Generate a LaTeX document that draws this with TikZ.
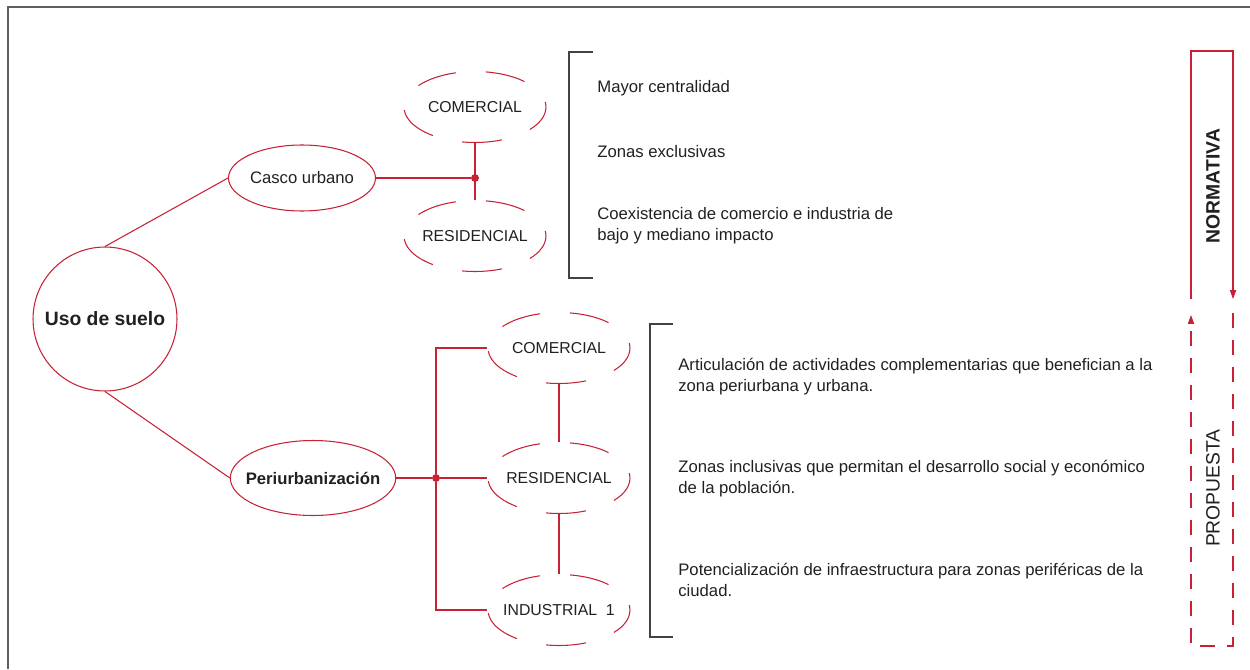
\documentclass[tikz,border=0pt]{standalone}
\usepackage{fontspec}
\setmainfont{Liberation Sans}
\usetikzlibrary{shapes.geometric,arrows.meta}
\definecolor{usored}{RGB}{200,32,52}
\definecolor{usotext}{RGB}{35,31,32}
\definecolor{usoframe}{RGB}{95,95,95}

\begin{document}
\begin{tikzpicture}[x=0.02cm, y=-0.02cm, >={Triangle[length=5pt,width=3.5pt]},
		font=\fontsize{9.5}{12}\selectfont, text=usotext,
		redline/.style={draw=usored, line width=0.6pt},
		zona/.style={ellipse, redline, inner sep=0pt},
		uso/.style={zona, inner xsep=-4pt, minimum width=2.84cm, minimum height=1.42cm, font=\fontsize{9}{11}\selectfont, dash pattern=on 0.8cm off 0.6cm, dash phase=0.7cm},
		nudo/.style={circle, fill=usored, inner sep=0pt, minimum size=4.5pt},
		corchete/.style={draw=usotext!85, line width=0.6pt},
		txt/.style={anchor=west, align=left, inner sep=0pt}]
		\useasboundingbox (0,0) rectangle (1250,669);
		\draw[usoframe, line width=0.6pt] (1250,7) -- (8,7) -- (8,669);
		% raiz y ramas
		\node[zona, circle, minimum size=2.88cm, font=\fontsize{11}{13}\selectfont\bfseries] (suelo) at (105,319) {Uso de suelo};
		\node[zona, minimum width=2.86cm, minimum height=1.32cm] (casco) at (302,178) {Casco urbano};
		\node[zona, inner xsep=-5pt, minimum width=3.28cm, minimum height=1.5cm, font=\fontsize{9.5}{12}\selectfont\bfseries] (peri) at (313,478) {Periurbanización};
		\draw[redline] (suelo.north) -- (casco.west);
		\draw[redline] (suelo.south) -- (peri.west);
		% casco urbano
		\node[uso] (com1) at (475,107) {COMERCIAL};
		\node[uso] (res1) at (475,236) {RESIDENCIAL};
		\node[nudo] (n1) at (475,178) {};
		\draw[redline] (casco.east) -- (n1);
		\draw[redline] (com1.south) -- (res1.north);
		% periurbanizacion
		\node[uso] (com2) at (559,348) {COMERCIAL};
		\node[uso] (res2) at (559,478) {RESIDENCIAL};
		\node[uso] (ind2) at (559,610) {INDUSTRIAL\ \ 1};
		\node[nudo] (n2) at (436,478) {};
		\draw[redline] (peri.east) -- (n2);
		\draw[redline] (com2.west) -| (n2) |- (ind2.west);
		\draw[redline] (n2) -- (res2.west);
		\draw[redline] (com2.south) -- (res2.north);
		\draw[redline] (res2.south) -- (ind2.north);
		% textos
		\draw[corchete] (593,52) -- (569,52) -- (569,278) -- (593,278);
		\node[txt] (t1) at (597,88) {Mayor centralidad};
		\node[txt] (t2) at (597,152) {Zonas exclusivas};
		\node[txt] (t3) at (597,226) {Coexistencia de comercio e industria de\\bajo y mediano impacto};
		\draw[corchete] (673,324) -- (650,324) -- (650,637) -- (673,637);
		\node[txt] (t4) at (678,377) {Articulación de actividades complementarias que benefician a la\\zona periurbana y urbana.};
		\node[txt] (t5) at (678,479) {Zonas inclusivas que permitan el desarrollo social y económico\\de la población.};
		\node[txt] (t6) at (678,580) {Potencialización de infraestructura para zonas periféricas de la\\ciudad.};
		% normativa / propuesta
		\draw[redline, ->] (1191,299) -- (1191,51) -- (1233,51) -- (1233,299);
		\draw[redline, dash pattern=on 0.3cm off 0.24cm, ->] (1233,313) -- (1233,646) -- (1191,646) -- (1191,315);
		\node[rotate=90, font=\fontsize{11}{13}\selectfont\bfseries] (normativa) at (1213,186) {NORMATIVA};
		\node[rotate=90, font=\fontsize{11}{13}\selectfont] (propuesta) at (1213,488) {PROPUESTA};
	\end{tikzpicture}
\end{document}
